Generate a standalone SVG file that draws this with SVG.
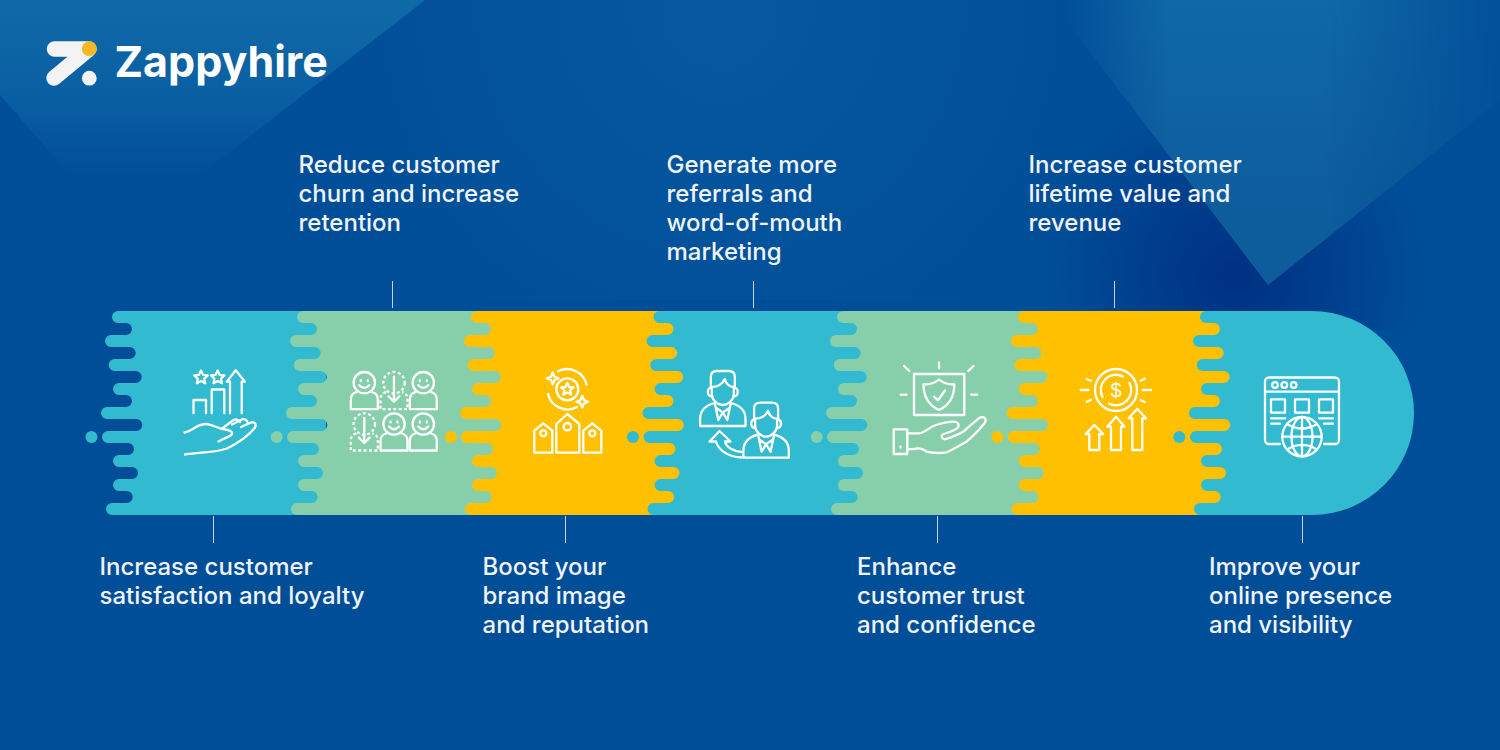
<svg xmlns="http://www.w3.org/2000/svg" xmlns:xlink="http://www.w3.org/1999/xlink" width="1500" height="750" viewBox="0 0 1500 750">
<style>
.teal{fill:#31BAD0}.green{fill:#87CFAA}.yellow{fill:#FFC000}
.ic{fill:none;stroke:#fff;stroke-width:2.3;stroke-linecap:round;stroke-linejoin:round}
.ds{stroke-dasharray:3 2.4;stroke-linecap:butt}
.lbl{font-family:Inter,"Noto Sans","Liberation Sans",sans-serif;font-size:24px;font-weight:500;fill:#F0F4F9}
.tick{stroke:#C4D3E6;stroke-width:1;fill:none}
</style>
<defs>
<linearGradient id="gTL" x1="0" y1="0" x2="0" y2="1"><stop offset="0" stop-color="#106AA8"/><stop offset="0.55" stop-color="#0A5FA2"/><stop offset="1" stop-color="#004E98"/></linearGradient>
<linearGradient id="gTR" x1="0" y1="0" x2="0" y2="1"><stop offset="0" stop-color="#0F69A7"/><stop offset="0.6" stop-color="#0E5F9F"/><stop offset="1" stop-color="#0D5B9B"/></linearGradient>
<linearGradient id="gTRm" x1="0" y1="0" x2="1" y2="0"><stop offset="0" stop-color="#fff" stop-opacity="0"/><stop offset="0.25" stop-color="#fff"/><stop offset="0.6" stop-color="#fff"/><stop offset="1" stop-color="#fff" stop-opacity="0.1"/></linearGradient>
<mask id="mTR"><rect x="1060" y="0" width="440" height="300" fill="url(#gTRm)"/></mask>
<radialGradient id="gShadow" cx="1235" cy="275" r="190" gradientUnits="userSpaceOnUse"><stop offset="0" stop-color="#003082"/><stop offset="1" stop-color="#003082" stop-opacity="0"/></radialGradient>
<radialGradient id="gMid" cx="720" cy="10" r="400" gradientUnits="userSpaceOnUse"><stop offset="0" stop-color="#0A5FA6" stop-opacity=".6"/><stop offset="1" stop-color="#0A5FA6" stop-opacity="0"/></radialGradient>
<path id="comb" d="M326 311H118A6 6 0 0 0 118 323H126A6 6 0 0 1 126 335H111A6 6 0 0 0 111 347H129.7A6 6 0 0 1 129.7 359H114.7A6 6 0 0 0 114.7 371H135.7A6 6 0 0 1 135.7 383H119A6 6 0 0 0 119 395H126A6 6 0 0 1 126 407H107A6 6 0 0 0 107 419H136.3A6 6 0 0 1 136.3 431H108A6 6 0 0 0 108 443H128A6 6 0 0 1 128 455H119A6 6 0 0 0 119 467H132A6 6 0 0 1 132 479H119A6 6 0 0 0 119 491H126.7A6 6 0 0 1 126.7 503H112A6 6 0 0 0 112 515H326Z"/>
<g id="smile"><circle r="10.7"/><path d="M-8 9.5C-12 10.5-13.5 13-13.5 17V26.5H13.5V17C13.5 13 12 10.5 8 9.5"/><path d="M-5 2.5Q0 8 5 2.5M-3.5-2.5V-1.5M3.5-2.5V-1.5"/></g>
<g id="dashp"><circle r="10.7" class="ds"/><path class="ds" d="M-8 9.5C-12 10.5-13.5 13-13.5 17V26.5H13.5V17C13.5 13 12 10.5 8 9.5"/><path d="M0-6V19M-5.5 13.5L0 19L5.5 13.5"/></g>
<g id="man"><path d="M-12-2V-13Q-12-19-6-19H6Q12-19 12-13V-2"/><path d="M-11-3C-5-3-1-5 2-11C3-6 7-3 11-3"/><path d="M-11-3V4C-11 10-5 15 0 15C5 15 11 10 11 4V-3"/><path d="M-11.5-2.5A4.6 4.6 0 0 0-11 6.5M11.5-2.5A4.6 4.6 0 0 1 11 6.5"/><path d="M-8 13C-16 15-22.7 20-22.7 29V36H22.7V29C22.7 20 16 15 8 13"/><path d="M-8 13L-4.5 30L0 22.5L4.5 30L8 13M-6.5 18L0 22.5L6.5 18"/></g>
</defs>

<g id="background">
<rect width="1500" height="750" fill="#004E98"/>
<rect x="300" y="0" width="800" height="300" fill="url(#gMid)"/>
<polygon points="0,0 425,0 200,175 70,175 0,95" fill="url(#gTL)"/>
<rect x="1000" y="90" width="500" height="240" fill="url(#gShadow)"/>
<polygon points="1050,0 1500,0 1500,100 1268,285 1050,0" fill="url(#gTR)" mask="url(#mTR)"/>
</g>

<g id="logo">
<path d="M54.5 49H89L54 78" fill="none" stroke="#F3F3F4" stroke-width="15.5" stroke-linecap="round" stroke-linejoin="round"/>
<circle cx="89.3" cy="48.7" r="7.4" fill="#F5B825"/>
<circle cx="89.3" cy="78.2" r="7.4" fill="#F3F3F4"/>
<text x="114.500" y="77" font-family="Inter,'Open Sans','Liberation Sans',sans-serif" font-size="43" font-weight="700" fill="#fff">Zappyhire</text>
</g>

<g id="connectors" class="tick">
<path d="M392.5 281V308M753.5 281V308M1114.5 281V308M213.5 516V543M565.5 516V543M937.5 516V543M1302.5 516V543"/>
</g>

<g id="step-1">
<use xlink:href="#comb" href="#comb" class="teal"/>
<circle cx="91.5" cy="437" r="6" class="teal"/>
<g class="ic">
<path d="M201 370.500l2 4.300 4.700.6-3.400 3.200.9 4.700-4.200-2.300-4.200 2.300.9-4.700-3.400-3.200 4.700-.6zM217.700 370.500l2 4.300 4.700.6-3.400 3.200.9 4.700-4.200-2.300-4.200 2.300.9-4.700-3.400-3.200 4.700-.6z"/>
<path d="M230 413.300V381.700H226.700L235.700 370.300L245 381.700H241.700V413.300"/>
<path d="M193.500 413.300V400H206V413.300M211.700 413.300V389.500H224.300V413.300"/>
<path d="M184.500 432.500C191 431.500 197 424.500 205 424C212 423.700 217 429 225 429.500C229 429.700 233 431.500 232 434C231 436.500 226 437 218.500 441.500M222 428.500L233 420.500C236 418.500 238 419.500 240 422M232 424.500L241 420C244 418 247 420 248 423M241 427L251 422.500C254 421.500 257 424 255 427.500C250 434 240 442 227 448.500C214 453 200 452 185 454.500"/>
</g>
<text class="lbl" x="99.500" y="575">Increase customer</text>
<text class="lbl" x="99.500" y="604">satisfaction and loyalty</text>
</g>

<g id="step-2">
<use xlink:href="#comb" href="#comb" x="185" class="green"/>
<circle cx="276.7" cy="437" r="6" class="green"/>
<g class="ic">
<use xlink:href="#smile" href="#smile" x="364.3" y="382.7"/>
<use xlink:href="#dashp" href="#dashp" x="394" y="382.7"/>
<use xlink:href="#smile" href="#smile" x="423.3" y="382.7"/>
<use xlink:href="#dashp" href="#dashp" x="364.3" y="424"/>
<use xlink:href="#smile" href="#smile" x="394" y="424"/>
<use xlink:href="#smile" href="#smile" x="423.3" y="424"/>
</g>
<text class="lbl" x="298.500" y="173">Reduce customer</text>
<text class="lbl" x="298.500" y="202">churn and increase</text>
<text class="lbl" x="298.500" y="231">retention</text>
</g>

<g id="step-3">
<use xlink:href="#comb" href="#comb" x="359" class="yellow"/>
<circle cx="451" cy="437" r="6" class="yellow"/>
<g class="ic">
<circle cx="567.3" cy="389.3" r="11"/>
<path d="M567.3 383l1.800 4 4.300.4-3.200 2.900 1 4.300-3.900-2.200-3.900 2.200 1-4.300-3.200-2.900 4.300-.4z"/>
<path d="M558 371.300A20 20 0 0 1 586.500 384.500M577 407A20 20 0 0 1 548 394"/>
<path d="M552.700 372.500L554.500 376.700L558.700 378.300L554.500 380L552.700 384.200L551 380L546.800 378.300L551 376.700zM582.300 396L584 400L588 401.700L584 403.400L582.300 407.500L580.600 403.400L576.500 401.700L580.600 400z"/>
<path d="M556.300 452.700V424L567.300 414L579.300 424V452.700ZM534.300 452.700V430.700L543.300 423.300L552.300 430.700V452.700ZM583.300 452.700V430.700L592.300 423.300L601.300 430.700V452.700Z"/>
<circle cx="567.3" cy="426.7" r="3.7"/><circle cx="543.3" cy="433.3" r="3"/><circle cx="592.3" cy="433.3" r="3"/>
</g>
<text class="lbl" x="482.500" y="575">Boost your</text>
<text class="lbl" x="482.500" y="604">brand image</text>
<text class="lbl" x="482.500" y="633">and reputation</text>
</g>

<g id="step-4">
<use xlink:href="#comb" href="#comb" x="541.5" class="teal"/>
<circle cx="633" cy="437" r="6" class="teal"/>
<g class="ic">
<use xlink:href="#man" href="#man" x="722.8" y="390"/>
<use xlink:href="#man" href="#man" x="766.1" y="421.7"/>
<path d="M741.500 457.500C727 457 718 449 716 441.500H709.500L719.500 431L730.500 441.500H725C726 447 733 451 741.500 452"/>
</g>
<text class="lbl" x="666.500" y="173">Generate more</text>
<text class="lbl" x="666.500" y="202">referrals and</text>
<text class="lbl" x="666.500" y="231">word-of-mouth</text>
<text class="lbl" x="666.500" y="260">marketing</text>
</g>

<g id="step-5">
<use xlink:href="#comb" href="#comb" x="725" class="green"/>
<circle cx="816.7" cy="437" r="6" class="green"/>
<g class="ic">
<rect x="914" y="374" width="50.3" height="41"/>
<path d="M939 379.500C943 383 949 384.500 954.300 384.500C954.300 396 950 405 939 410C928 405 923.500 396 923.500 384.500C929 384.500 935 383 939 379.500Z"/>
<path d="M934 396.700L938 400.300L945 390.500"/>
<path d="M939 362.500V368.300M904 366L909.300 371M973.500 366L968.300 371M900.700 394.700H906.700M971.300 394.700H977.300"/>
<rect x="893.7" y="429.3" width="13.6" height="24.7"/>
<path d="M900.500 446.500V447.500"/>
<path d="M907.300 433.300H919C925 433.300 929 427 936 425C942 423 948 422 953 421.700C958 421.500 960 425 957.500 428C953 432 947 432 942 435C941 437 943 440 946 439C952 437 958 435 963.500 431.500C969 427 975 421 980 417.500C984 416 987 419 985 422.500C980 429 973 436 966.700 441.700C960 445 954 449 946.700 452.300C939 453.500 932 453 926.700 451.700C923 449 922 448 918 448.300C914 449 911 449 907.300 449.300"/>
</g>
<text class="lbl" x="857" y="575">Enhance</text>
<text class="lbl" x="857" y="604">customer trust</text>
<text class="lbl" x="857" y="633">and confidence</text>
</g>

<g id="step-6">
<use xlink:href="#comb" href="#comb" x="905.7" class="yellow"/>
<circle cx="997.3" cy="437" r="6" class="yellow"/>
<g class="ic">
<circle cx="1116" cy="390" r="21"/>
<path d="M1129.500 383A15.200 15.200 0 0 1 1109 403.500M1102.500 397A15.200 15.200 0 0 1 1123 376.500"/>
<path d="M1080.700 390H1088.300M1142.700 390H1151M1086.700 379L1090.700 380.700M1086.700 401.700L1090.700 400M1140.700 380.700L1144.700 378.700M1140.700 400L1144.700 402"/>
<path d="M1089.300 450V434H1085.700L1094.300 425L1103.300 434H1099.300V450ZM1111 450V426.700H1107.300L1116 416.700L1124.700 426.700H1121V450ZM1132.300 450V418.300H1128.700L1137.300 408.700L1146 418.300H1142.300V450Z"/>
</g>
<text x="1116" y="397" text-anchor="middle" font-family="'Liberation Sans',sans-serif" font-size="20" fill="#fff">$</text>
<text class="lbl" x="1028.500" y="173">Increase customer</text>
<text class="lbl" x="1028.500" y="202">lifetime value and</text>
<text class="lbl" x="1028.500" y="231">revenue</text>
</g>

<g id="step-7">
<path transform="translate(1088 0)" class="teal" d="M224 311H118A6 6 0 0 0 118 323H126A6 6 0 0 1 126 335H111A6 6 0 0 0 111 347H129.700A6 6 0 0 1 129.700 359H114.700A6 6 0 0 0 114.700 371H135.700A6 6 0 0 1 135.700 383H119A6 6 0 0 0 119 395H126A6 6 0 0 1 126 407H107A6 6 0 0 0 107 419H136.300A6 6 0 0 1 136.300 431H108A6 6 0 0 0 108 443H128A6 6 0 0 1 128 455H119A6 6 0 0 0 119 467H132A6 6 0 0 1 132 479H119A6 6 0 0 0 119 491H126.700A6 6 0 0 1 126.700 503H112A6 6 0 0 0 112 515H224A102 102 0 0 0 224 311Z"/>
<circle cx="1179.3" cy="437" r="6" class="teal"/>
<g class="ic">
<path d="M1280 444H1269A4 4 0 0 1 1265 440V381.500A4 4 0 0 1 1269 377.500H1335A4 4 0 0 1 1339 381.500V440A4 4 0 0 1 1335 444H1324M1265 391.700H1339"/>
<circle cx="1275" cy="385" r="2.8"/><circle cx="1284.3" cy="385" r="2.8"/><circle cx="1293.7" cy="385" r="2.8"/>
<rect x="1271" y="399.3" width="14" height="13.4"/><rect x="1295" y="399.3" width="14" height="13.4"/><rect x="1319" y="399.3" width="14" height="13.4"/>
<path d="M1271 418.300H1285.300M1271 423.700H1280M1319 418.300H1333M1324 423.700H1333"/>
<circle cx="1302" cy="436.7" r="19.7"/>
<ellipse cx="1302" cy="436.7" rx="10.5" ry="19.7"/>
<path d="M1302 417V456.400M1282.300 436.700H1321.700M1287 424Q1302 433 1317 424M1287 449.400Q1302 440.400 1317 449.400"/>
</g>
<text class="lbl" x="1209" y="575">Improve your</text>
<text class="lbl" x="1209" y="604">online presence</text>
<text class="lbl" x="1209" y="633">and visibility</text>
</g>
</svg>
